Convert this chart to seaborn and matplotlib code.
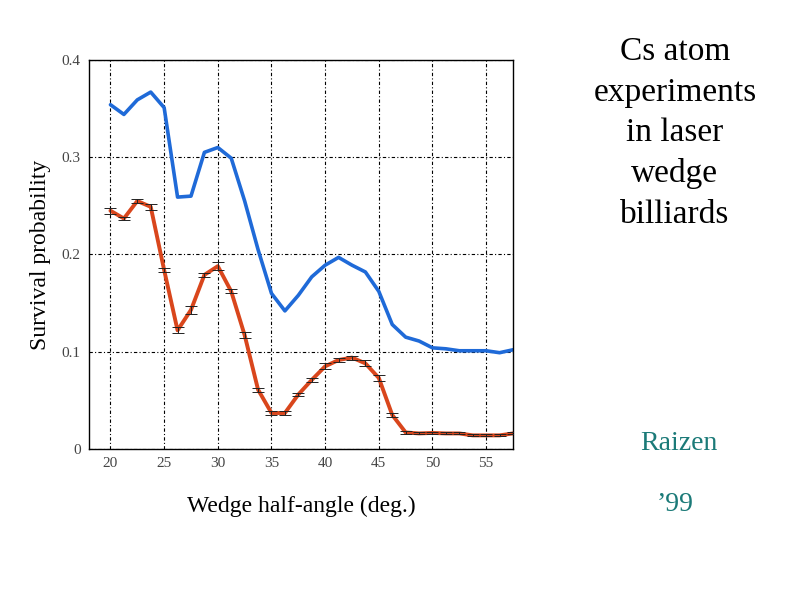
import numpy as np
import pandas as pd
import seaborn as sns
import matplotlib.pyplot as plt

# wedge half-angle samples (deg.)
angle = [20, 21.25, 22.5, 23.75, 25, 26.25, 27.5, 28.75, 30, 31.25, 32.5, 33.75,
         35, 36.25, 37.5, 38.75, 40, 41.25, 42.5, 43.75, 45, 46.25, 47.5, 48.75,
         50, 51.25, 52.5, 53.75, 55, 56.25, 57.5]

# upper (blue) curve
surv_blue = [0.354, 0.344, 0.359, 0.367, 0.351, 0.259, 0.260, 0.305, 0.310, 0.299,
             0.255, 0.205, 0.160, 0.142, 0.158, 0.177, 0.189, 0.197, 0.189, 0.182,
             0.162, 0.128, 0.115, 0.111, 0.104, 0.103, 0.101, 0.101, 0.101, 0.099,
             0.102]

# lower (red) curve with error bars
surv_red = [0.245, 0.237, 0.255, 0.249, 0.184, 0.122, 0.143, 0.179, 0.188, 0.162,
            0.117, 0.061, 0.037, 0.037, 0.056, 0.071, 0.085, 0.0915, 0.094, 0.088,
            0.073, 0.035, 0.017, 0.016, 0.0165, 0.016, 0.016, 0.014, 0.014, 0.014,
            0.016]
err_red = [0.003, 0.002, 0.002, 0.003, 0.002, 0.003, 0.004, 0.002, 0.004, 0.002,
           0.003, 0.002, 0.002, 0.002, 0.002, 0.002, 0.003, 0.002, 0.002, 0.003,
           0.003, 0.002, 0.002, 0.001, 0.001, 0.001, 0.001, 0.001, 0.001, 0.001,
           0.001]

xticks = [20, 25, 30, 35, 40, 45, 50, 55]
yticks = [0, 0.1, 0.2, 0.3, 0.4]
ytick_labels = ["0", "0.1", "0.2", "0.3", "0.4"]

df = pd.DataFrame({"angle": angle, "blue": surv_blue, "red": surv_red, "err": err_red})

sns.set_style("white")
plt.rcParams["font.family"] = ["Liberation Serif", "DejaVu Serif"]
plt.rcParams["text.color"] = "black"
plt.rcParams["axes.labelcolor"] = "black"

fig = plt.figure(figsize=(7.94, 5.95), dpi=100)
ax = fig.add_axes([0.1121, 0.2454, 0.5340, 0.6538])

sns.lineplot(data=df, x="angle", y="blue", color="#1f6ad8", linewidth=2.6, ax=ax)
sns.lineplot(data=df, x="angle", y="red", color="#d9461c", linewidth=2.8, ax=ax)
ax.errorbar(df["angle"], df["red"], yerr=df["err"], fmt="none", ecolor="#222222",
            elinewidth=0.7, capsize=4, capthick=0.7, zorder=3)

ax.set_xlim(18, 57.5)
ax.set_ylim(0, 0.4)
ax.set_xticks(xticks)
ax.set_yticks(yticks)
ax.set_yticklabels(ytick_labels)
ax.tick_params(direction="in", length=0, labelsize=11, colors="#444444", pad=6)

ax.grid(True, color="black", linewidth=0.8, linestyle=(0, (3, 2, 1, 2)))
for s in ax.spines.values():
    s.set_color("black")
    s.set_linewidth(1.0)

ax.set_xlabel("Wedge half-angle (deg.)", fontsize=17, labelpad=18)
ax.set_ylabel("Survival probability", fontsize=17, labelpad=8)

fig.text(0.850, 0.776, "Cs atom\nexperiments\nin laser\nwedge\nbilliards",
         ha="center", va="center", fontsize=24, linespacing=1.42)
fig.text(0.855, 0.255, "Raizen", ha="center", va="center", fontsize=20, color="#1b7a78")
fig.text(0.850, 0.152, "\u201999", ha="center", va="center", fontsize=20, color="#1b7a78")

fig.savefig("out.png", dpi=100)
